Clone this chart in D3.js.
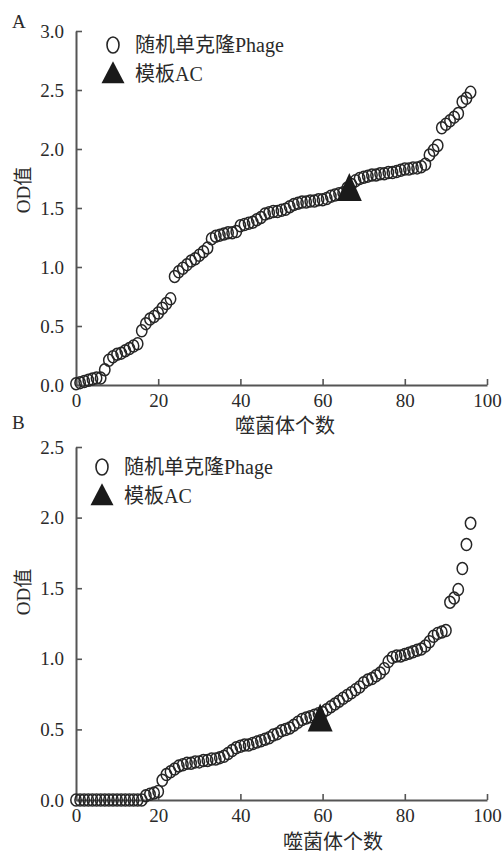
<!DOCTYPE html>
<html>
<head>
<meta charset="utf-8">
<script src="https://cdn.jsdelivr.net/npm/d3@7"></script>
<style>
  body { margin: 0; background: #fff; }
  text { font-family: "Liberation Serif", "Noto Sans CJK SC", serif; fill: #2a2a2a; }
</style>
</head>
<body>
<div id="chart"></div>
<script>
// panel A: OD of random phage clones (sorted), index 0..96
const odA = [0.01, 0.02, 0.03, 0.04, 0.05, 0.06, 0.06, 0.13, 0.21, 0.24, 0.26, 0.27, 0.29, 0.31, 0.33, 0.35,
  0.46, 0.52, 0.56, 0.58, 0.61, 0.65, 0.69, 0.73, 0.92, 0.96, 0.99, 1.02, 1.05, 1.07, 1.10, 1.13, 1.16,
  1.24, 1.26, 1.27, 1.28, 1.29, 1.29, 1.30, 1.35, 1.36, 1.37, 1.38, 1.40, 1.42, 1.45, 1.46, 1.47, 1.47,
  1.48, 1.49, 1.51, 1.53, 1.54, 1.55, 1.55, 1.56, 1.56, 1.57, 1.57, 1.58, 1.60, 1.61, 1.62, 1.63, 1.67,
  1.70, 1.73, 1.75, 1.76, 1.77, 1.78, 1.78, 1.79, 1.79, 1.80, 1.80, 1.81, 1.82, 1.83, 1.83, 1.84, 1.84,
  1.85, 1.87, 1.95, 1.99, 2.03, 2.18, 2.21, 2.24, 2.27, 2.30, 2.40, 2.43, 2.48]
const templateA = [66.5, 1.65]

// panel B
const odB = [0, 0, 0, 0, 0, 0, 0, 0, 0, 0, 0, 0, 0, 0, 0, 0, 0,
  0.03, 0.04, 0.05, 0.06, 0.14, 0.18, 0.20, 0.22, 0.24, 0.25, 0.26, 0.26, 0.27, 0.27, 0.28, 0.28, 0.29,
  0.29, 0.30, 0.31, 0.33, 0.35, 0.37, 0.38, 0.39, 0.39, 0.40, 0.41, 0.42, 0.43, 0.44, 0.46, 0.47, 0.49,
  0.50, 0.51, 0.53, 0.55, 0.57, 0.58, 0.59, 0.60, 0.61, 0.62, 0.64, 0.66, 0.68, 0.70, 0.72, 0.74, 0.76,
  0.78, 0.80, 0.83, 0.85, 0.86, 0.88, 0.90, 0.93, 0.98, 1.01, 1.02, 1.02, 1.03, 1.04, 1.05, 1.06, 1.07,
  1.09, 1.12, 1.16, 1.18, 1.19, 1.20, 1.40, 1.43, 1.49, 1.64, 1.81, 1.96]
const templateB = [59.4, 0.56]

const xTicks = [0, 20, 40, 60, 80, 100]
const yTicksA = [0, 0.5, 1.0, 1.5, 2.0, 2.5, 3.0]
const yTicksB = [0, 0.5, 1.0, 1.5, 2.0, 2.5]
const legendLabels = ["随机单克隆Phage", "模板AC"]

var width = 502, height = 852

var svg = d3.select("#chart").append("svg")
  .attr("width", width)
  .attr("height", height)

const tri = (w, h) => "M0," + (-h * 0.62) + "L" + (w / 2) + "," + (h * 0.38) + "L" + (-w / 2) + "," + (h * 0.38) + "Z"

const drawPanel = (p) => {
  var x = d3.scaleLinear().domain([0, 100]).range([76, 487])
  var y = d3.scaleLinear().domain([0, p.ymax]).range([p.y0, p.y1])

  var g = svg.append("g")

  var xAxis = d3.axisBottom(x)
    .tickValues(xTicks)
    .tickSizeInner(-6)
    .tickSizeOuter(0)
    .tickPadding(9)
    .tickFormat(d3.format("d"))

  var gx = g.append("g")
    .attr("transform", "translate(0," + p.y0 + ")")
    .call(xAxis)

  var yAxis = d3.axisLeft(y)
    .tickValues(p.yTicks)
    .tickSizeInner(-6)
    .tickSizeOuter(0)
    .tickPadding(12)
    .tickFormat(d3.format(".1f"))

  var gy = g.append("g")
    .attr("transform", "translate(76,0)")
    .call(yAxis)

  g.selectAll(".domain").attr("stroke", "#555").attr("stroke-width", 2)
  g.selectAll(".tick line").attr("stroke", "#555").attr("stroke-width", 1.6)
  g.selectAll(".tick text")
    .style("font-size", "19px")
    .style("font-family", "'Liberation Serif', serif")
    .attr("fill", "#2a2a2a")

  // points
  g.selectAll("ellipse.pt")
    .data(p.data)
    .enter().append("ellipse")
    .attr("class", "pt")
    .attr("cx", function (d, i) { return x(i); })
    .attr("cy", function (d) { return y(d); })
    .attr("rx", 5.2)
    .attr("ry", 6)
    .attr("fill", "none")
    .attr("stroke", "#262626")
    .attr("stroke-width", 1.5)

  g.append("path")
    .attr("d", tri(25, 28))
    .attr("transform", "translate(" + x(p.template[0]) + "," + y(p.template[1]) + ")")
    .attr("fill", "#1a1a1a")

  // panel letter
  g.append("text")
    .attr("x", 12)
    .attr("y", p.letterY)
    .style("font-size", "19px")
    .text(p.letter)

  // axis titles
  g.append("text")
    .attr("x", p.xlabX)
    .attr("y", p.xlabY)
    .attr("text-anchor", "middle")
    .style("font-size", "20px")
    .text("噬菌体个数")

  g.append("text")
    .attr("transform", "translate(30," + p.ylabY + ") rotate(-90)")
    .attr("text-anchor", "middle")
    .style("font-size", "19px")
    .text("OD值")

  // legend
  g.append("ellipse")
    .attr("cx", p.legX)
    .attr("cy", p.legY)
    .attr("rx", 6)
    .attr("ry", 8)
    .attr("fill", "none")
    .attr("stroke", "#262626")
    .attr("stroke-width", 1.6)
  g.append("path")
    .attr("d", tri(23, 22))
    .attr("transform", "translate(" + p.legX + "," + (p.legY + p.legGap + 1) + ")")
    .attr("fill", "#1a1a1a")

  g.selectAll("text.leg")
    .data(legendLabels)
    .enter().append("text")
    .attr("class", "leg")
    .attr("x", p.legX + 22)
    .attr("y", function (d, i) { return p.legY + 7 + i * p.legGap; })
    .style("font-size", "20px")
    .text(function (d) { return d; })
}

drawPanel({ data: odA, template: templateA, ymax: 3.0, y0: 385, y1: 31, yTicks: yTicksA,
  letter: "A", letterY: 28, xlabX: 285, xlabY: 433, ylabY: 190, legX: 113, legY: 45, legGap: 29 })
drawPanel({ data: odB, template: templateB, ymax: 2.5, y0: 800, y1: 447, yTicks: yTicksB,
  letter: "B", letterY: 429, xlabX: 333, xlabY: 849, ylabY: 592, legX: 102, legY: 467, legGap: 29 })
</script>
</body>
</html>
